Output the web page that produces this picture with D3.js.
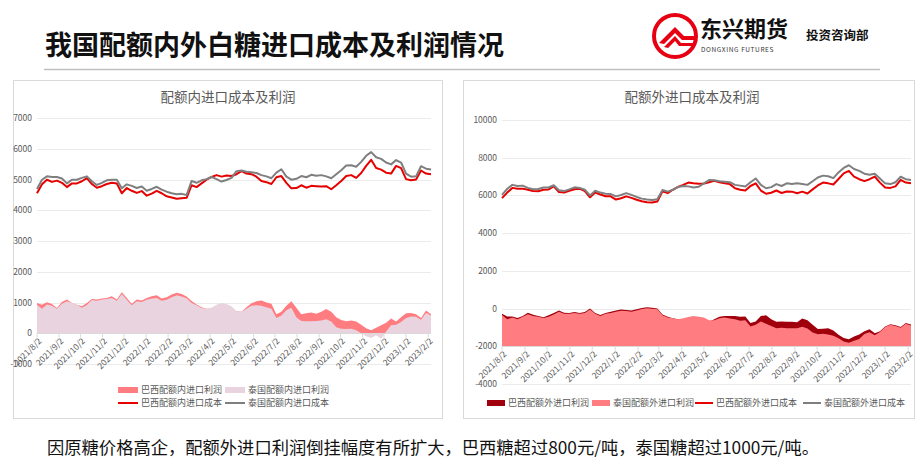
<html>

<head>
    <meta charset="utf-8" />
    <title>配额内外白糖进口成本及利润</title>
    <script src="https://d3js.org/d3.v7.min.js"></script>
    <style>
        body {
            margin: 0;
            background: #fff;
            font-family: "Noto Sans CJK SC", "Noto Sans", sans-serif;
        }

        .tick-label {
            font-size: 8.5px;
            fill: #595959;
        }

        .legend-text {
            font-size: 9px;
            fill: #595959;
        }
    </style>
</head>

<body>
    <svg id="sugar" width="924" height="475"></svg>
    <script>
        // weekly observations (Mondays)
        const weeks = ["2021-08-02", "2021-08-09", "2021-08-16", "2021-08-23", "2021-08-30", "2021-09-06",
            "2021-09-13", "2021-09-20", "2021-09-27", "2021-10-04", "2021-10-11", "2021-10-18", "2021-10-25",
            "2021-11-01", "2021-11-08", "2021-11-15", "2021-11-22", "2021-11-29", "2021-12-06", "2021-12-13",
            "2021-12-20", "2021-12-27", "2022-01-03", "2022-01-10", "2022-01-17", "2022-01-24", "2022-01-31",
            "2022-02-07", "2022-02-14", "2022-02-21", "2022-02-28", "2022-03-07", "2022-03-14", "2022-03-21",
            "2022-03-28", "2022-04-04", "2022-04-11", "2022-04-18", "2022-04-25", "2022-05-02", "2022-05-09",
            "2022-05-16", "2022-05-23", "2022-05-30", "2022-06-06", "2022-06-13", "2022-06-20", "2022-06-27",
            "2022-07-04", "2022-07-11", "2022-07-18", "2022-07-25", "2022-08-01", "2022-08-08", "2022-08-15",
            "2022-08-22", "2022-08-29", "2022-09-05", "2022-09-12", "2022-09-19", "2022-09-26", "2022-10-03",
            "2022-10-10", "2022-10-17", "2022-10-24", "2022-10-31", "2022-11-07", "2022-11-14", "2022-11-21",
            "2022-11-28", "2022-12-05", "2022-12-12", "2022-12-19", "2022-12-26", "2023-01-02", "2023-01-09",
            "2023-01-16", "2023-01-23", "2023-01-30", "2023-02-06"]

        const monthTicks = ["2021/8/2", "2021/9/2", "2021/10/2", "2021/11/2", "2021/12/2", "2022/1/2",
            "2022/2/2", "2022/3/2", "2022/4/2", "2022/5/2", "2022/6/2", "2022/7/2", "2022/8/2", "2022/9/2",
            "2022/10/2", "2022/11/2", "2022/12/2", "2023/1/2", "2023/2/2"]

        // 配额内
        const inBrazilCost = [4560, 4850, 5000, 4930, 4970, 4900, 4760, 4880, 4880, 4950, 5050, 4860, 4740,
            4790, 4860, 4900, 4880, 4560, 4730, 4640, 4570, 4630, 4480, 4550, 4640, 4560, 4460, 4420, 4380,
            4400, 4410, 4820, 4760, 4880, 5000, 5090, 5150, 5100, 5140, 5120, 5180, 5280, 5200, 5180, 5100,
            4960, 4920, 4860, 5080, 5120, 4900, 4720, 4730, 4820, 4740, 4800, 4790, 4780, 4790, 4690, 4820,
            4960, 5120, 5150, 5060, 5220, 5450, 5650, 5380, 5330, 5230, 5200, 5450, 5380, 5020, 4980, 5010,
            5300, 5200, 5180]
        const inThaiCost = [4700, 5000, 5110, 5090, 5090, 5040, 4880, 5000, 5000, 5060, 5110, 4950, 4830,
            4900, 4980, 5000, 5000, 4720, 4850, 4800, 4730, 4780, 4640, 4700, 4770, 4680, 4610, 4560, 4530,
            4540, 4500, 4960, 4900, 4980, 5020, 5090, 5020, 4940, 4990, 5060, 5280, 5300, 5260, 5240, 5220,
            5150, 5110, 5050, 5230, 5340, 5100, 5000, 5030, 5120, 5080, 5160, 5130, 5150, 5110, 5050, 5180,
            5310, 5460, 5470, 5420, 5580, 5780, 5900, 5730, 5680, 5560, 5500, 5640, 5560, 5200, 5100, 5110,
            5440, 5360, 5330]
        const inBrazilProfit = [990, 930, 1010, 950, 820, 1020, 1100, 990, 930, 880, 990, 1120, 1100, 1130,
            1150, 1210, 1100, 1340, 1150, 960, 1100, 1070, 1150, 1210, 1240, 1130, 1170, 1260, 1320, 1280,
            1200, 1050, 940, 850, 800, 810, 800, 810, 780, 760, 720, 700, 850, 980, 1040, 1070, 1000, 960,
            620, 700, 900, 1040, 830, 620, 650, 680, 640, 700, 790, 700, 520, 430, 390, 420, 380, 280, 160,
            100, 180, 260, 340, 480, 380, 520, 650, 660, 620, 500, 740, 620]
        const inThaiProfit = [930, 800, 940, 900, 800, 960, 1040, 990, 930, 830, 920, 1080, 1060, 1100, 1120,
            1150, 1060, 1280, 1090, 910, 1040, 1020, 1090, 1130, 1150, 1060, 1090, 1170, 1240, 1200, 1140,
            990, 910, 820, 800, 830, 930, 990, 950, 880, 720, 700, 800, 900, 910, 900, 850, 800, 500, 580,
            750, 830, 520, 400, 390, 390, 400, 420, 460, 380, 200, 150, 140, 150, 100, 0, -100, -150, -60,
            -180, 60, 260, 280, 370, 500, 550, 540, 440, 660, 580]

        // 配额外
        const outBrazilCost = [5860, 6150, 6400, 6350, 6360, 6300, 6230, 6220, 6300, 6320, 6480, 6180, 6150,
            6250, 6330, 6360, 6230, 5900, 6150, 6050, 5960, 5950, 5780, 5850, 5950, 5870, 5770, 5690, 5640,
            5630, 5680, 6220, 6120, 6300, 6450, 6560, 6680, 6640, 6620, 6630, 6700, 6780, 6700, 6650, 6600,
            6380, 6300, 6260, 6500, 6640, 6260, 6090, 6140, 6260, 6130, 6210, 6200, 6120, 6200, 6100, 6320,
            6530, 6680, 6640, 6580, 6870, 7170, 7300, 7000, 6860, 6760, 6860, 7000, 6680, 6420, 6400, 6480,
            6820, 6680, 6650]
        const outThaiCost = [6030, 6350, 6560, 6500, 6520, 6400, 6330, 6340, 6420, 6420, 6540, 6270, 6230,
            6320, 6430, 6400, 6300, 6000, 6250, 6150, 6090, 6070, 5950, 6020, 6120, 6030, 5920, 5830, 5780,
            5760, 5800, 6290, 6200, 6300, 6450, 6500, 6480, 6420, 6460, 6640, 6820, 6800, 6750, 6730, 6700,
            6560, 6520, 6470, 6700, 6900, 6560, 6380, 6440, 6600, 6500, 6640, 6600, 6640, 6610, 6560, 6750,
            6950, 7050, 7020, 6920, 7220, 7460, 7600, 7400, 7300, 7150, 7100, 7150, 6900, 6640, 6600, 6700,
            6990, 6860, 6820]
        const outBrazilProfit = [-270, -420, -420, -500, -400, -220, -330, -400, -460, -360, -230, -100, -220,
            -230, -180, -230, -180, 0, -230, -340, -230, -170, -100, -50, -70, -100, -40, 30, 70, 40, 0, -320,
            -440, -510, -570, -620, -620, -620, -660, -660, -700, -560, -440, -400, -400, -400, -440, -420,
            -760, -680, -400, -350, -570, -700, -690, -700, -700, -720, -520, -620, -860, -1080, -1070,
            -1040, -1160, -1390, -1560, -1630, -1480, -1370, -1200, -1100, -1310, -1200, -950, -830, -880,
            -980, -760, -850]
        const outThaiProfit = [-340, -560, -480, -560, -440, -300, -390, -440, -500, -430, -310, -170, -280,
            -280, -230, -280, -230, -50, -280, -390, -280, -230, -170, -120, -130, -170, -100, -20, 20, -10,
            -40, -360, -480, -510, -570, -510, -450, -400, -440, -480, -620, -620, -510, -480, -530, -570,
            -640, -620, -950, -860, -690, -800, -920, -1040, -1020, -1050, -1050, -1050, -960, -1060, -1270,
            -1360, -1340, -1380, -1440, -1580, -1740, -1810, -1700, -1620, -1350, -1250, -1420, -1240, -980,
            -860, -920, -1020, -800, -900]

        const parseDay = d3.timeParse("%Y-%m-%d")
        const parseTick = d3.timeParse("%Y/%m/%d")
        const dates = weeks.map(parseDay)
        const tickDates = monthTicks.map(parseTick)

        const svg = d3.select("svg#sugar")

        // header
        svg.append("text")
            .attr("x", 45).attr("y", 55)
            .attr("font-size", 27).attr("font-weight", "bold").attr("fill", "#111")
            .text("我国配额内外白糖进口成本及利润情况")
        svg.append("line")
            .attr("x1", 44).attr("x2", 880).attr("y1", 69.5).attr("y2", 69.5)
            .attr("stroke", "#bfbfbf").attr("stroke-width", 1.5)

        // logo
        const logo = svg.append("g").attr("id", "logo")
        logo.append("circle").attr("cx", 675).attr("cy", 36).attr("r", 21)
            .attr("fill", "none").attr("stroke", "#e60012").attr("stroke-width", 4)
        logo.append("path")
            .attr("d", "M659,43 L675,27 L684,36 L694,36 L694,40 L682,40 L675,33 L664,44 Z")
            .attr("fill", "#e60012")
        logo.append("path")
            .attr("d", "M664,47 L675,36 L681,43 L693,43 L692,46 L679,46 L675,41 L668,48 Z")
            .attr("fill", "#e60012")
        logo.append("text").attr("x", 700).attr("y", 37)
            .attr("font-size", 22).attr("font-weight", "bold").attr("fill", "#111")
            .text("东兴期货")
        logo.append("text").attr("x", 701).attr("y", 52)
            .attr("font-size", 6.5).attr("fill", "#333").attr("letter-spacing", 0.6)
            .text("DONGXING FUTURES")
        logo.append("text").attr("x", 806).attr("y", 40)
            .attr("font-size", 12.5).attr("font-weight", "bold").attr("fill", "#111")
            .text("投资咨询部")

        // footer
        svg.append("text")
            .attr("x", 47).attr("y", 454)
            .attr("font-size", 17.3).attr("fill", "#111")
            .text("因原糖价格高企，配额外进口利润倒挂幅度有所扩大，巴西糖超过800元/吨，泰国糖超过1000元/吨。")

        const drawPanel = function (cfg) {
            const g = svg.append("g").attr("id", cfg.id)

            g.append("rect")
                .attr("x", cfg.box[0]).attr("y", cfg.box[1])
                .attr("width", cfg.box[2]).attr("height", cfg.box[3])
                .attr("fill", "#fff").attr("stroke", "#d9d9d9")

            g.append("text")
                .attr("x", cfg.titleX).attr("y", 102)
                .attr("text-anchor", "middle")
                .attr("font-size", 13.5).attr("fill", "#595959")
                .text(cfg.title)

            const x = d3.scaleTime().domain(d3.extent(dates)).range(cfg.xRange)
            const y = d3.scaleLinear().domain(cfg.yDomain).range(cfg.yRange)

            // grid + y labels
            const yTicks = d3.range(cfg.yDomain[0], cfg.yDomain[1] + 1, cfg.yStep)
            g.append("g").attr("class", "grids")
                .selectAll("line").data(yTicks)
                .join("line")
                .attr("x1", cfg.xRange[0]).attr("x2", cfg.xRange[1])
                .attr("y1", d => Math.round(y(d)) + 0.5).attr("y2", d => Math.round(y(d)) + 0.5)
                .attr("stroke", "#ebebeb")
            g.append("g")
                .selectAll("text").data(yTicks)
                .join("text").attr("class", "tick-label")
                .attr("x", cfg.xRange[0] - 5)
                .attr("y", d => y(d))
                .attr("dy", "0.35em")
                .attr("text-anchor", "end")
                .text(d => d)

            // profit areas
            const area = d3.area()
                .x((d, i) => x(dates[i]))
                .y0(y(cfg.base))
                .y1(d => y(d))
            g.selectAll("path.profit").data(cfg.areas)
                .join("path").attr("class", "profit")
                .attr("d", d => area(d.values))
                .attr("fill", d => d.color)

            // cost lines
            const line = d3.line()
                .x((d, i) => x(dates[i]))
                .y(d => y(d))
            g.selectAll("path.cost").data(cfg.lines)
                .join("path").attr("class", "cost")
                .attr("d", d => line(d.values))
                .attr("fill", "none")
                .attr("stroke", d => d.color)
                .attr("stroke-width", 2)
                .attr("stroke-linejoin", "round")

            // x axis at the crossing value
            const axisY = Math.round(y(cfg.base)) + 0.5
            g.append("line")
                .attr("x1", cfg.xRange[0]).attr("x2", cfg.xRange[1])
                .attr("y1", axisY).attr("y2", axisY)
                .attr("stroke", "#d9d9d9")
            g.append("g").selectAll("line").data(tickDates)
                .join("line")
                .attr("x1", d => x(d)).attr("x2", d => x(d))
                .attr("y1", axisY).attr("y2", axisY + 4)
                .attr("stroke", "#d9d9d9")
            g.append("g").selectAll("text").data(monthTicks)
                .join("text").attr("class", "tick-label")
                .attr("text-anchor", "end")
                .attr("transform", (d, i) => `translate(${x(tickDates[i]) + 3}, ${axisY + 6}) rotate(-45)`)
                .attr("dy", "0.35em")
                .text(d => d)

            // legend
            const items = g.selectAll("g.legend").data(cfg.legend)
                .join("g").attr("class", "legend")
                .attr("transform", d => `translate(${d.x}, ${d.y})`)
            items.filter(d => d.kind == "area").append("rect")
                .attr("x", 0).attr("y", -3).attr("width", cfg.swatch).attr("height", 6)
                .attr("fill", d => d.color)
            items.filter(d => d.kind == "line").append("line")
                .attr("x1", 0).attr("x2", cfg.swatch).attr("y1", 0).attr("y2", 0)
                .attr("stroke", d => d.color).attr("stroke-width", 2)
            items.append("text").attr("class", "legend-text")
                .attr("x", cfg.swatch + 3).attr("y", 0).attr("dy", "0.35em")
                .text(d => d.name)
        }

        drawPanel({
            id: "in-quota",
            box: [13.5, 80.5, 429, 338],
            title: "配额内进口成本及利润",
            titleX: 228,
            xRange: [37, 431],
            yDomain: [-1000, 7000],
            yRange: [364, 118.3],
            yStep: 1000,
            base: 0,
            areas: [
                { values: inBrazilProfit, color: "#ff7c80" },
                { values: inThaiProfit, color: "#e8d3de" }
            ],
            lines: [
                { values: inBrazilCost, color: "#e60000" },
                { values: inThaiCost, color: "#7f7f7f" }
            ],
            swatch: 20,
            legend: [
                { name: "巴西配额内进口利润", kind: "area", color: "#ff7c80", x: 118, y: 390 },
                { name: "泰国配额内进口利润", kind: "area", color: "#e8d3de", x: 225, y: 390 },
                { name: "巴西配额内进口成本", kind: "line", color: "#e60000", x: 118, y: 403 },
                { name: "泰国配额内进口成本", kind: "line", color: "#7f7f7f", x: 225, y: 403 }
            ]
        })

        drawPanel({
            id: "out-quota",
            box: [463.5, 80.5, 451, 338],
            title: "配额外进口成本及利润",
            titleX: 692,
            xRange: [502, 911],
            yDomain: [-4000, 10000],
            yRange: [384, 120],
            yStep: 2000,
            base: -2000,
            areas: [
                { values: outBrazilProfit, color: "#a0000b" },
                { values: outThaiProfit, color: "#ff7c80" }
            ],
            lines: [
                { values: outBrazilCost, color: "#e60000" },
                { values: outThaiCost, color: "#7f7f7f" }
            ],
            swatch: 18,
            legend: [
                { name: "巴西配额外进口利润", kind: "area", color: "#a0000b", x: 487, y: 403 },
                { name: "泰国配额外进口利润", kind: "area", color: "#ff7c80", x: 592, y: 403 },
                { name: "巴西配额外进口成本", kind: "line", color: "#e60000", x: 695, y: 403 },
                { name: "泰国配额外进口成本", kind: "line", color: "#7f7f7f", x: 803, y: 403 }
            ]
        })
    </script>
</body>

</html>
